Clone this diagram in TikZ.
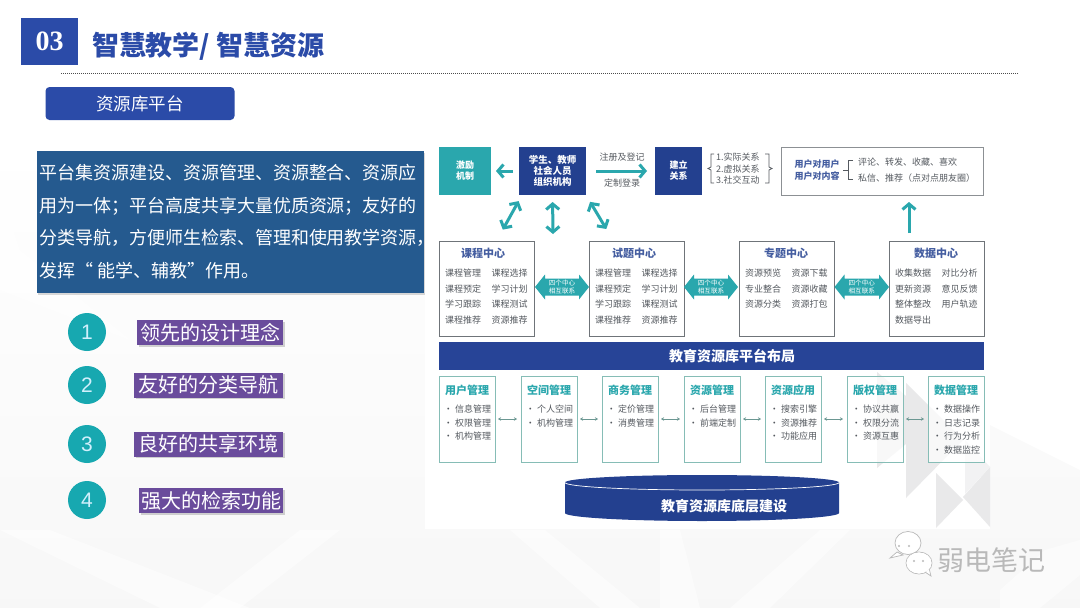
\documentclass[tikz,border=0pt]{standalone}
\usepackage{fontspec}
\setmainfont{Noto Sans CJK SC}
\newfontfamily\serlat{Liberation Serif}
\newfontfamily\sanslat{Liberation Sans}
\usetikzlibrary{arrows.meta,shadows}
\definecolor{navy}{HTML}{23408F}
\definecolor{royal}{HTML}{2B4BA8}
\definecolor{panel}{HTML}{255A8F}
\definecolor{teal}{HTML}{2AA7AD}
\definecolor{circ}{HTML}{17A8B0}
\definecolor{purp}{HTML}{6A4C9C}
\definecolor{ink}{HTML}{555A60}
\definecolor{frame}{HTML}{6F7479}
\definecolor{mint}{HTML}{86BDB6}
\definecolor{ghost}{HTML}{E9E9EA}
\newcommand{\fs}[1]{\fontsize{#1}{#1}\selectfont}
\tikzset{
  every node/.style={inner sep=0pt,outer sep=0pt},
  filled/.style={fill=#1,draw=none,text=white,align=center},
  centerbox/.style={draw=frame,line width=1pt,fill=white},
  lowbox/.style={draw=mint,line width=1pt,fill=white,fill opacity=.7},
  purplabel/.style={fill=purp,text=white,font=\fs{20},drop shadow={shadow xshift=1.5pt,shadow yshift=-1.5pt,opacity=.35}},
  numdot/.style={circle,fill=circ,minimum size=38pt,text=cyan!18,font=\sanslat\fs{21}},
  item/.style={text=ink,font=\fs{9}},
  ctitle/.style={text=navy!85,font=\bfseries\fs{11}},
  ltitle/.style={text=teal,font=\bfseries\fs{11}},
  linktext/.style={text=white,font=\fs{6.6},align=center},
  fat/.style={draw=teal,line width=3pt,{Straight Barb[length=5.5pt,width=13pt]}-{Straight Barb[length=5.5pt,width=13pt]}},
  fatone/.style={draw=teal,line width=3pt,-{Straight Barb[length=5.5pt,width=13pt]}},
  thinlink/.style={draw=mint!80!black,line width=.8pt,{Stealth[length=3pt,width=3.5pt]}-{Stealth[length=3pt,width=3.5pt]}},
  brace/.style={draw=ink,line width=.7pt},
  streak/.style={fill=white,fill opacity=.5}
}
\newcommand{\boxnode}[6]{\node[#6,minimum width={(#4-#2)*1pt},minimum height={(#5-#3)*1pt}] (#1) at ({(#2+#4)/2},{(#3+#5)/2}) {};}
% name, left x, title centre x, title, column 1, column 2
\newcommand{\centerunit}[6]{%
  \boxnode{#1}{#2}{241}{#2+95}{336}{centerbox}
  \node[ctitle] (#1-title) at (#3,253) {#4};
  \foreach \t [count=\i] in {#5}{\node[item] (#1-a\i) at ({#2+24},{273+15.7*(\i-1)}) {\t};}
  \foreach \t [count=\i] in {#6}{\node[item] (#1-b\i) at ({#2+70.5},{273+15.7*(\i-1)}) {\t};}
}
% name, left x, title, items
\newcommand{\lowunit}[4]{%
  \boxnode{#1}{#2}{376}{#2+56}{462}{lowbox}
  \node[ltitle] (#1-title) at ({#2+28},390) {#3};
  \foreach \t [count=\i] in {#4}{\node[item] (#1-i\i) at ({#2+28.5},{409+13.7*(\i-1)}) {· \t};}
}
% name, left tip x, right tip x
\newcommand{\midlink}[3]{%
  \fill[teal] (#2,287) -- (#2+10,274.5) -- (#2+10,278.5) -- (#3-10,278.5) -- (#3-10,274.5) -- (#3,287) -- (#3-10,299.5) -- (#3-10,295.5) -- (#2+10,295.5) -- (#2+10,299.5) -- cycle;
  \node[linktext] (#1) at ({(#2+#3)/2},287) {四个中心\\[1.5pt]相互联系};
}
\begin{document}
\begin{tikzpicture}[x=1pt,y=-1pt]
\useasboundingbox (0,0) rectangle (1080,608);
% ---- faint slide background
\fill[white] (0,0) rectangle (1080,608);
\shade[top color=white,bottom color=gray!6] (0,140) rectangle (1080,608);
\fill[streak] (0,530) -- (50,530) -- (250,608) -- (160,608) -- cycle;
\fill[streak] (0,190) -- (20,250) -- (130,340) -- (0,290) -- cycle;
\fill[streak] (300,530) -- (340,530) -- (240,608) -- (200,608) -- cycle;
\fill[streak] (510,530) -- (545,530) -- (640,608) -- (600,608) -- cycle;
\fill[streak] (660,530) -- (680,530) -- (700,608) -- (660,608) -- cycle;
\fill[streak] (820,530) -- (850,530) -- (770,608) -- (730,608) -- cycle;
\fill[streak] (1000,590) -- (1045,550) -- (1080,540) -- (1080,575) -- (1040,608) -- (1000,608) -- cycle;
\fill[white] (990,140) -- (1080,140) -- (1080,470) -- (990,425) -- cycle;
\fill[white] (425,135) rectangle (990,529);
% ghost triangles behind the diagram
\fill[ghost] (877,372) -- (935,420) -- (877,468) -- cycle;
\fill[ghost] (906,383) -- (963,440) -- (906,498) -- cycle;
\fill[ghost] (936,473) -- (963,500) -- (936,528) -- cycle;
\fill[ghost] (990,467) -- (963,497) -- (990,527) -- cycle;
\fill[ghost!60] (965,440) -- (990,467) -- (965,494) -- cycle;
% ---- header
\node[filled=royal,minimum width=57pt,minimum height=47pt,font=\serlat\bfseries\fs{28}] (num) at (49.5,41.5) {03};
\node[anchor=west,text=royal,font=\bfseries\fs{27}] (title) at (92,46) {智慧教学/ 智慧资源};
\coordinate (ruleL) at (61,73);
\coordinate (ruleR) at (1018,73);
\draw[black!70,line width=.7pt,dash pattern=on 1pt off 1pt] (ruleL) -- (ruleR);
\node[filled=royal,rounded corners=4pt,minimum width=189pt,minimum height=33pt,font=\fs{17.5}] (sub) at (140,103.5) {资源库平台};
% ---- paragraph
\node[fill=panel,text=white,minimum width=387pt,minimum height=142pt,drop shadow={shadow xshift=1pt,shadow yshift=-1.5pt,opacity=.3}] (panelbg) at (230.5,222) {};
\node[anchor=north west,text=white,align=left,font=\fontsize{18}{32.5}\selectfont] (para) at (39,164.5) {平台集资源建设、资源管理、资源整合、资源应\\用为一体；平台高度共享大量优质资源；友好的\\分类导航，方便师生检索、管理和使用教学资源，\\发挥“ 能学、辅教”作用。};
% ---- numbered list
\node[numdot] (n1) at (87,332) {1};
\node[numdot] (n2) at (87,385) {2};
\node[numdot] (n3) at (87,444) {3};
\node[numdot] (n4) at (87,500) {4};
\node[purplabel,minimum width=146pt,minimum height=25pt] (l1) at (210,332.5) {领先的设计理念};
\node[purplabel,minimum width=149pt,minimum height=25pt] (l2) at (208.5,385) {友好的分类导航};
\node[purplabel,minimum width=149pt,minimum height=25pt] (l3) at (208.5,444) {良好的共享环境};
\node[purplabel,minimum width=144pt,minimum height=25pt] (l4) at (211,500.5) {强大的检索功能};
% ---- top row of the diagram
\boxnode{inc}{439}{147}{491}{195}{filled=teal}
\node[text=white,font=\bfseries\fs{9},align=center] (inc-t) at (inc) {激励\\[2pt]机制};
\boxnode{stu}{519}{147}{586}{195}{filled=navy}
\node[text=white,font=\bfseries\fs{9.5},align=center] (stu-t) at (stu) {学生、教师\\[1.5pt]社会人员\\[1.5pt]组织机构};
\boxnode{rel}{655}{147}{702}{195}{filled=navy}
\node[text=white,font=\bfseries\fs{9},align=center] (rel-t) at (rel) {建立\\[2pt]关系};
\draw[fatone,shorten <=6pt,shorten >=5pt] (stu.west) -- (inc.east);
\draw[fatone,shorten <=10pt,shorten >=8pt] (stu.east) -- (rel.west);
\node[item] (reg) at (622,157) {注册及登记};
\node[item] (login) at (622,183) {定制登录};
\draw[brace] (714,154) -- (711,154) -- (711,167) -- (708,168.5) -- (711,170) -- (711,183) -- (714,183);
\node[item,anchor=west] (r1) at (716,157) {1.实际关系};
\node[item,anchor=west] (r2) at (716,169) {2.虚拟关系};
\node[item,anchor=west] (r3) at (716,180) {3.社交互动};
\draw[brace] (765,154) -- (769,154) -- (769,167) -- (772,168.5) -- (769,170) -- (769,183) -- (765,183);
\boxnode{usr}{781}{147}{983}{195}{draw=frame!80,line width=1pt,fill=white}
\node[text=navy!85,font=\bfseries\fs{9},align=center] (usr-t) at (817,170) {用户对用户\\[2.5pt]用户对内容};
\draw[brace] (843,170) -- (848,170);
\draw[brace] (853,160) -- (848,160) -- (848,179) -- (853,179);
\node[item,anchor=west] (u1) at (858,162) {评论、转发、收藏、喜欢};
\node[item,anchor=west] (u2) at (858,178) {私信、推荐（点对点朋友圈）};
% ---- centres
\centerunit{cc}{439}{483}{课程中心}{课程管理,课程预定,学习跟踪,课程推荐}{课程选择,学习计划,课程测试,资源推荐}
\centerunit{qc}{589}{634}{试题中心}{课程管理,课程预定,学习跟踪,课程推荐}{课程选择,学习计划,课程测试,资源推荐}
\centerunit{tc}{739}{786}{专题中心}{资源预览,专业整合,资源分类}{资源下载,资源收藏,资源打包}
\centerunit{dc}{889}{936}{数据中心}{收集数据,更新资源,整体整改,数据导出}{对比分析,意见反馈,用户轨迹}
\midlink{m1}{535}{589}
\midlink{m2}{684}{738}
\midlink{m3}{834.5}{889}
\coordinate (hub) at (553,234);
\draw[fat,shorten <=7pt,shorten >=13pt] ([xshift=3pt]stu.south west) -- ([xshift=10pt]cc.north);
\draw[fat,shorten <=7pt] (stu.south) -- (hub);
\draw[fat,shorten <=8pt,shorten >=14pt] (stu.south east) -- ([xshift=-23pt]qc.north);
\draw[fatone,shorten <=8pt,shorten >=7pt] ([xshift=-27.5pt]dc.north) -- ([xshift=-27.5pt]dc.north |- usr.south);
% ---- banner
\boxnode{ban}{438.5}{342}{984}{370}{filled=royal!90!black}
\node[text=white,font=\bfseries\fs{14}] (ban-t) at (732,356) {教育资源库平台布局};
% ---- management row
\lowunit{w1}{439}{用户管理}{信息管理,权限管理,机构管理}
\lowunit{w2}{521}{空间管理}{个人空间,机构管理}
\lowunit{w3}{602}{商务管理}{定价管理,消费管理}
\lowunit{w4}{684}{资源管理}{后台管理,前端定制}
\lowunit{w5}{765}{资源应用}{搜索引擎,资源推荐,功能应用}
\lowunit{w6}{847}{版权管理}{协议共赢,权限分流,资源互惠}
\lowunit{w7}{928}{数据管理}{数据操作,日志记录,行为分析,数据监控}
\foreach \a/\b in {w1/w2,w2/w3,w3/w4,w4/w5,w5/w6,w6/w7}{\draw[thinlink,shorten <=3pt,shorten >=4pt] (\a.east) -- (\b.west);}
% ---- base cylinder
\fill[navy] (565,482.5) -- (565,513) arc[start angle=180,end angle=360,x radius=137pt,y radius=8pt] -- (839,482.5) -- cycle;
\fill[royal!85!black] (702,482.5) ellipse[x radius=137pt,y radius=7.5pt];
\draw[white,line width=.7pt] (565,482.5) arc[start angle=180,end angle=360,x radius=137pt,y radius=7.5pt];
\node[text=white,font=\bfseries\fs{14}] (base) at (724,506) {教育资源库底层建设};
% ---- watermark
\begin{scope}[draw=gray!55,fill=white,line width=.7pt]
\filldraw (908,543) ellipse[x radius=13pt,y radius=11.5pt];
\filldraw (897,552) -- (890,558) -- (903,555) -- cycle;
\filldraw (919,563) ellipse[x radius=13pt,y radius=11pt];
\filldraw (925,572) -- (931,576) -- (929,568) -- cycle;
\fill[white] (919,563) ellipse[x radius=12.4pt,y radius=10.4pt];
\end{scope}
\fill[gray!55] (899,546) circle[radius=1.2pt] (909,546) circle[radius=1.2pt] (914,561) circle[radius=1.2pt] (923,561) circle[radius=1.2pt];
\node[text=gray!55,font=\fs{27}] (mark) at (991,560) {弱电笔记};
\end{tikzpicture}
\end{document}
